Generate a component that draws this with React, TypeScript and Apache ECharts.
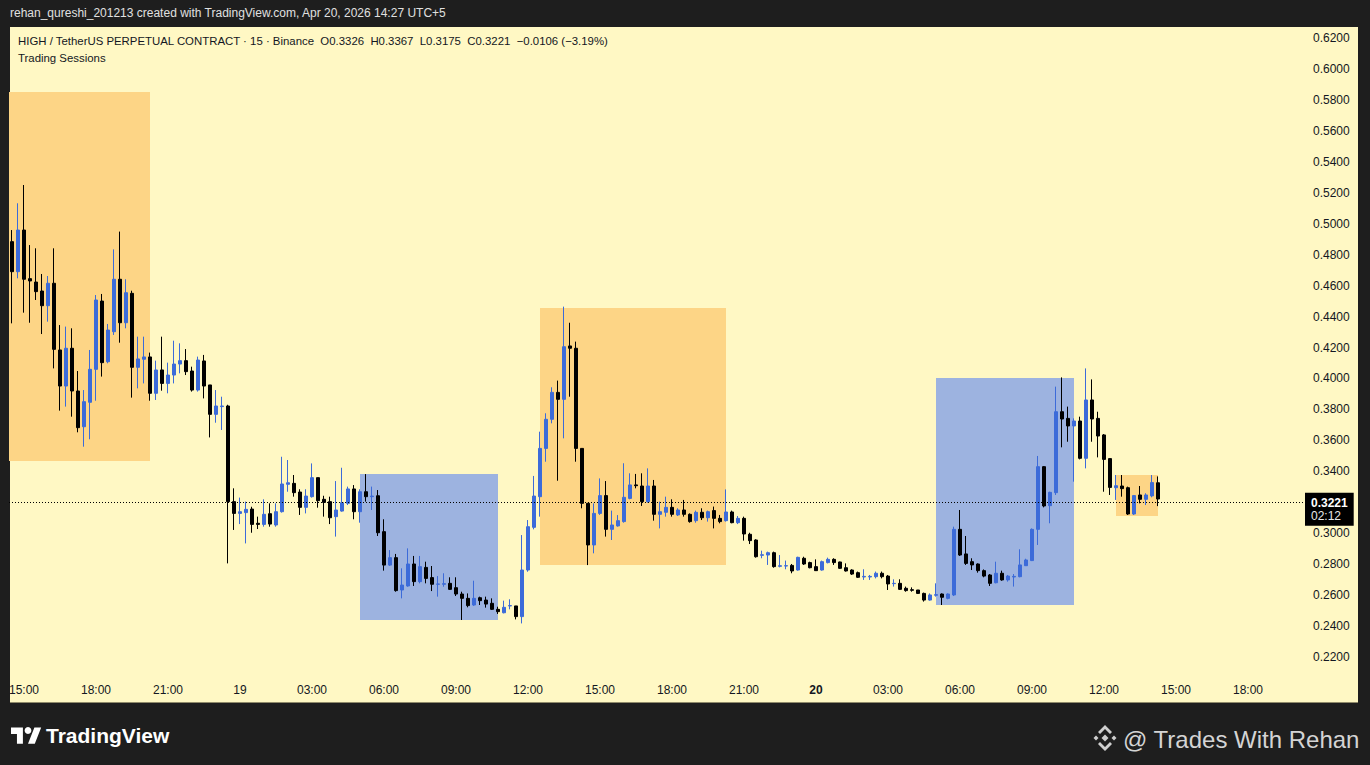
import React, { useEffect, useRef } from "react";
import * as echarts from "echarts";

// ---- OHLC data, one 15-minute candle each, first candle = Apr 18 14:30 ----
const opens = [
  0.4884, 0.4690, 0.4959, 0.4645, 0.4623, 0.4565, 0.4470, 0.4615, 0.4184, 0.3951,
  0.4195, 0.3919, 0.3688, 0.3846, 0.4059, 0.4500, 0.4108, 0.4302, 0.4641, 0.4360,
  0.4550, 0.4072, 0.4124, 0.4139, 0.3904, 0.4055, 0.3968, 0.4022, 0.4093, 0.4115,
  0.4048, 0.3925, 0.4113, 0.3958, 0.3768, 0.3818, 0.3822, 0.3204, 0.3128, 0.3133,
  0.3156, 0.3064, 0.3057, 0.3126, 0.3053, 0.3139, 0.3316, 0.3322, 0.3266, 0.3167,
  0.3236, 0.3359, 0.3219, 0.3204, 0.3107, 0.3143, 0.3193, 0.3286, 0.3139, 0.3268,
  0.3236, 0.3242, 0.3010, 0.2794, 0.2842, 0.2633, 0.2659, 0.2801, 0.2687, 0.2779,
  0.2713, 0.2670, 0.2670, 0.2676, 0.2648, 0.2607, 0.2579, 0.2536, 0.2583, 0.2568,
  0.2547, 0.2508, 0.2486, 0.2530, 0.2530, 0.2461, 0.2762, 0.3038, 0.3236, 0.3548,
  0.3736, 0.3910, 0.3865, 0.4210, 0.4195, 0.3548, 0.3193, 0.2924, 0.3128, 0.3243,
  0.3025, 0.3047, 0.3075, 0.3225, 0.3312, 0.3305, 0.3204, 0.3305, 0.3122, 0.3135,
  0.3167, 0.3118, 0.3150, 0.3122, 0.3081, 0.3135, 0.3100, 0.3146, 0.3096, 0.3081,
  0.3137, 0.3068, 0.3096, 0.2993, 0.2956, 0.2857, 0.2859, 0.2874, 0.2786, 0.2788,
  0.2792, 0.2762, 0.2838, 0.2810, 0.2784, 0.2762, 0.2810, 0.2831, 0.2814, 0.2777,
  0.2762, 0.2745, 0.2717, 0.2717, 0.2719, 0.2741, 0.2723, 0.2674, 0.2676, 0.2644,
  0.2635, 0.2633, 0.2611, 0.2568, 0.2599, 0.2607, 0.2579, 0.2601, 0.3025, 0.2866,
  0.2816, 0.2801, 0.2758, 0.2730, 0.2680, 0.2741, 0.2698, 0.2717, 0.2719, 0.2790,
  0.2823, 0.3025, 0.3430, 0.3178, 0.3262, 0.3785, 0.3742, 0.3693, 0.3725, 0.3484,
  0.3861, 0.3742, 0.3635, 0.3482, 0.3294, 0.3305, 0.3294, 0.3124, 0.3247, 0.3219,
  0.3241, 0.3326,
];
const closes = [
  0.4690, 0.4959, 0.4641, 0.4630, 0.4561, 0.4470, 0.4615, 0.4188, 0.3951, 0.4195,
  0.3919, 0.3682, 0.3850, 0.4059, 0.4507, 0.4102, 0.4313, 0.4641, 0.4360, 0.4554,
  0.4072, 0.4126, 0.4139, 0.3904, 0.4055, 0.3968, 0.4022, 0.4093, 0.4115, 0.4044,
  0.3925, 0.4119, 0.3951, 0.3768, 0.3822, 0.3822, 0.3204, 0.3128, 0.3139, 0.3154,
  0.3057, 0.3057, 0.3122, 0.3059, 0.3139, 0.3318, 0.3326, 0.3262, 0.3167, 0.3240,
  0.3359, 0.3210, 0.3199, 0.3100, 0.3150, 0.3197, 0.3286, 0.3139, 0.3268, 0.3236,
  0.3240, 0.3003, 0.2794, 0.2842, 0.2629, 0.2665, 0.2801, 0.2687, 0.2784, 0.2708,
  0.2670, 0.2672, 0.2674, 0.2637, 0.2607, 0.2579, 0.2532, 0.2579, 0.2564, 0.2542,
  0.2508, 0.2493, 0.2521, 0.2532, 0.2461, 0.2762, 0.3042, 0.3240, 0.3548, 0.3736,
  0.3910, 0.3865, 0.4205, 0.4195, 0.3548, 0.3193, 0.2924, 0.3128, 0.3243, 0.3025,
  0.3053, 0.3081, 0.3232, 0.3312, 0.3307, 0.3204, 0.3305, 0.3122, 0.3139, 0.3167,
  0.3122, 0.3150, 0.3122, 0.3075, 0.3135, 0.3100, 0.3139, 0.3096, 0.3075, 0.3137,
  0.3068, 0.3096, 0.2995, 0.2952, 0.2848, 0.2861, 0.2874, 0.2784, 0.2790, 0.2790,
  0.2756, 0.2844, 0.2801, 0.2777, 0.2758, 0.2816, 0.2831, 0.2810, 0.2773, 0.2756,
  0.2736, 0.2715, 0.2721, 0.2721, 0.2741, 0.2719, 0.2672, 0.2676, 0.2637, 0.2629,
  0.2631, 0.2611, 0.2568, 0.2601, 0.2603, 0.2586, 0.2607, 0.3025, 0.2859, 0.2805,
  0.2795, 0.2758, 0.2723, 0.2676, 0.2741, 0.2698, 0.2723, 0.2721, 0.2795, 0.2827,
  0.3025, 0.3430, 0.3176, 0.3264, 0.3785, 0.3738, 0.3693, 0.3725, 0.3484, 0.3861,
  0.3738, 0.3628, 0.3477, 0.3296, 0.3307, 0.3288, 0.3124, 0.3243, 0.3219, 0.3247,
  0.3327, 0.3221,
];
const lows = [
  0.4356, 0.4647, 0.4425, 0.4360, 0.4507, 0.4287, 0.4367, 0.4065, 0.3792, 0.3818,
  0.3753, 0.3652, 0.3559, 0.3607, 0.3856, 0.4012, 0.4098, 0.4281, 0.4231, 0.4324,
  0.3876, 0.3936, 0.3968, 0.3856, 0.3861, 0.3921, 0.3904, 0.3968, 0.4033, 0.4022,
  0.3915, 0.3915, 0.3871, 0.3619, 0.3714, 0.3667, 0.2805, 0.3021, 0.3059, 0.2934,
  0.3003, 0.3027, 0.3042, 0.3042, 0.3042, 0.3133, 0.3268, 0.3236, 0.3118, 0.3128,
  0.3230, 0.3165, 0.3107, 0.3059, 0.2978, 0.3139, 0.3182, 0.3090, 0.3068, 0.3204,
  0.3150, 0.2982, 0.2758, 0.2788, 0.2622, 0.2579, 0.2654, 0.2659, 0.2676, 0.2676,
  0.2626, 0.2590, 0.2654, 0.2633, 0.2594, 0.2439, 0.2521, 0.2530, 0.2536, 0.2519,
  0.2504, 0.2478, 0.2482, 0.2508, 0.2443, 0.2417, 0.2751, 0.3025, 0.3107, 0.3462,
  0.3710, 0.3339, 0.3613, 0.3882, 0.3462, 0.3161, 0.2794, 0.2870, 0.3118, 0.2978,
  0.2956, 0.3042, 0.3068, 0.3219, 0.3290, 0.3176, 0.3197, 0.3081, 0.3031, 0.3107,
  0.3107, 0.3111, 0.3107, 0.3068, 0.3068, 0.3085, 0.3075, 0.3031, 0.3064, 0.3075,
  0.3064, 0.3059, 0.2952, 0.2930, 0.2842, 0.2838, 0.2795, 0.2777, 0.2779, 0.2767,
  0.2741, 0.2758, 0.2795, 0.2773, 0.2756, 0.2758, 0.2805, 0.2795, 0.2769, 0.2752,
  0.2730, 0.2711, 0.2698, 0.2698, 0.2708, 0.2708, 0.2633, 0.2655, 0.2633, 0.2622,
  0.2622, 0.2607, 0.2558, 0.2564, 0.2590, 0.2536, 0.2573, 0.2594, 0.2853, 0.2795,
  0.2762, 0.2745, 0.2715, 0.2659, 0.2676, 0.2693, 0.2687, 0.2655, 0.2715, 0.2788,
  0.2820, 0.2924, 0.3167, 0.3064, 0.3247, 0.3555, 0.3591, 0.3333, 0.3477, 0.3419,
  0.3591, 0.3490, 0.3268, 0.3247, 0.3215, 0.3236, 0.3118, 0.3118, 0.3193, 0.3182,
  0.3232, 0.3175,
];
const highs = [
  0.4959, 0.5132, 0.5250, 0.4862, 0.4841, 0.4675, 0.4662, 0.4841, 0.4345, 0.4335,
  0.4324, 0.4048, 0.3925, 0.4184, 0.4539, 0.4546, 0.4352, 0.4834, 0.4949, 0.4641,
  0.4567, 0.4270, 0.4270, 0.4167, 0.4115, 0.4270, 0.4102, 0.4244, 0.4227, 0.4190,
  0.4076, 0.4141, 0.4152, 0.3958, 0.3925, 0.3882, 0.3830, 0.3290, 0.3230, 0.3204,
  0.3171, 0.3107, 0.3219, 0.3193, 0.3193, 0.3494, 0.3473, 0.3376, 0.3284, 0.3284,
  0.3451, 0.3359, 0.3242, 0.3236, 0.3337, 0.3423, 0.3301, 0.3311, 0.3284, 0.3382,
  0.3301, 0.3279, 0.3090, 0.2891, 0.2866, 0.2773, 0.2902, 0.2853, 0.2853, 0.2816,
  0.2788, 0.2723, 0.2741, 0.2715, 0.2715, 0.2622, 0.2611, 0.2693, 0.2590, 0.2590,
  0.2579, 0.2525, 0.2564, 0.2573, 0.2530, 0.2988, 0.3085, 0.3370, 0.3656, 0.3775,
  0.3943, 0.3986, 0.4464, 0.4360, 0.4238, 0.3548, 0.3193, 0.3193, 0.3354, 0.3337,
  0.3146, 0.3117, 0.3452, 0.3387, 0.3383, 0.3387, 0.3419, 0.3344, 0.3204, 0.3236,
  0.3219, 0.3161, 0.3215, 0.3128, 0.3146, 0.3161, 0.3146, 0.3172, 0.3118, 0.3283,
  0.3146, 0.3111, 0.3107, 0.3003, 0.2961, 0.2887, 0.2881, 0.2881, 0.2859, 0.2823,
  0.2801, 0.2848, 0.2848, 0.2816, 0.2831, 0.2823, 0.2842, 0.2838, 0.2816, 0.2805,
  0.2767, 0.2752, 0.2767, 0.2730, 0.2752, 0.2752, 0.2730, 0.2702, 0.2702, 0.2655,
  0.2650, 0.2633, 0.2616, 0.2611, 0.2676, 0.2611, 0.2611, 0.3042, 0.3150, 0.2982,
  0.2838, 0.2805, 0.2766, 0.2736, 0.2816, 0.2758, 0.2730, 0.2736, 0.2896, 0.2835,
  0.3031, 0.3499, 0.3434, 0.3268, 0.3947, 0.4007, 0.3818, 0.3742, 0.3753, 0.4065,
  0.3994, 0.3785, 0.3641, 0.3484, 0.3376, 0.3376, 0.3301, 0.3247, 0.3305, 0.3258,
  0.3376, 0.3367,
];

// ---- time axis: 15-minute slots, starting Apr 18 14:30 (UTC+5) ----
const firstDay = 18;
const firstMinute = 14 * 60 + 30;
const slotMinutes = 15;
const slotCount = 216;
const currentDay = 20;
const pad = (n: number) => String(n).padStart(2, "0");
const categories: string[] = [];
for (let i = 0; i < slotCount; i++) {
  const total = firstMinute + i * slotMinutes;
  const day = firstDay + Math.floor(total / 1440);
  const m = total % 1440;
  categories.push(`04-${pad(day)} ${pad(Math.floor(m / 60))}:${pad(m % 60)}`);
}

// ---- trading sessions (kind 0 = orange, 1 = blue) ----
const sessionStart = ["04-18 14:30", "04-19 05:00", "04-19 12:30", "04-20 05:00", "04-20 12:30"];
const sessionEnd = ["04-18 20:15", "04-19 10:45", "04-19 20:15", "04-20 10:45", "04-20 14:15"];
const sessionHigh = [0.5851, 0.3382, 0.4455, 0.4003, 0.3376];
const sessionLow = [0.3467, 0.2439, 0.2795, 0.2536, 0.3111];
const sessionKind = [0, 1, 0, 1, 0];
const sessionOpenBefore = [1, 0, 0, 0, 0];

// ---- y ticks ----
const yMin = 0.22;
const yMax = 0.62;
const yStep = 0.02;

const headerText = "rehan_qureshi_201213 created with TradingView.com, Apr 20, 2026 14:27 UTC+5";
const legendText =
  "HIGH / TetherUS PERPETUAL CONTRACT · 15 · Binance  O0.3326  H0.3367  L0.3175  C0.3221  \u22120.0106 (\u22123.19%)";
const indicatorText = "Trading Sessions";
const countdown = "02:12";

const FONT = "'Liberation Sans', Arial, sans-serif";
const BG_DARK = "#1e1e1e";
const PANEL = "#fff8c4";
const ORANGE = "#fdd586";
const BLUE_BOX = "#9db3e0";
const UP = "#3c6bd9";
const DOWN = "#000000";

export default function App() {
  const ref = useRef<HTMLDivElement>(null);

  useEffect(() => {
    if (!ref.current) return;
    echarts.graphic.registerShape(
      "tvlogo",
      echarts.graphic.extendPath("M14 22H7V11H0V4h14v18zM28 22h-8l7.5-18h8L28 22z", {}) as any
    );
    const chart = echarts.init(ref.current, undefined, { renderer: "svg" });

    const candles = opens.map((o, i) => [o, closes[i], lows[i], highs[i]]);
    const lastClose = closes[closes.length - 1];
    const sessionData = sessionStart.map((s, i) => [
      categories.indexOf(s),
      categories.indexOf(sessionEnd[i]),
      sessionHigh[i],
      sessionLow[i],
      sessionKind[i],
      sessionOpenBefore[i],
    ]);

    const option: any = {
      animation: false,
      backgroundColor: BG_DARK,
      textStyle: { fontFamily: FONT },
      grid: { left: 9, top: 38, width: 1296, height: 619, containLabel: false },
      xAxis: {
        type: "category",
        data: categories,
        boundaryGap: true,
        axisLine: { show: false },
        axisTick: { show: false },
        splitLine: { show: false },
        axisLabel: {
          interval: (index: number) => (index - 2) % 12 === 0,
          margin: 27,
          color: "#131722",
          fontSize: 12,
          fontFamily: FONT,
          formatter: (v: string) => {
            const t = v.slice(6);
            if (t === "00:00") {
              const d = parseInt(v.slice(3, 5), 10);
              return d === currentDay ? `{cur|${d}}` : `${d}`;
            }
            return t;
          },
          rich: { cur: { fontWeight: "bold", fontSize: 12, color: "#131722", fontFamily: FONT } },
        },
      },
      yAxis: {
        type: "value",
        position: "right",
        min: yMin,
        max: yMax,
        interval: yStep,
        scale: true,
        axisLine: { show: false },
        axisTick: { show: false },
        splitLine: { show: false },
        axisLabel: {
          margin: 8,
          color: "#131722",
          fontSize: 12,
          fontFamily: FONT,
          formatter: (v: number) => (Math.abs(v - 0.32) < 1e-6 ? "" : v.toFixed(4)),
        },
      },
      graphic: [
        { type: "rect", z: -10, shape: { x: 10, y: 27, width: 1348, height: 676 }, style: { fill: PANEL } },
        { type: "rect", z: -9, shape: { x: 10, y: 702, width: 1348, height: 1 }, style: { fill: "#8f8a6a" } },
        {
          type: "text", x: 10, y: 13,
          style: { text: headerText, fill: "#e0e0e0", font: `12px ${FONT}`, verticalAlign: "middle" },
        },
        {
          type: "text", x: 18, y: 41,
          style: { text: legendText, fill: "#131722", font: `11.4px ${FONT}`, verticalAlign: "middle" },
        },
        {
          type: "text", x: 18, y: 58,
          style: { text: indicatorText, fill: "#131722", font: `11.4px ${FONT}`, verticalAlign: "middle" },
        },
        { type: "tvlogo", x: 11, y: 724, scaleX: 0.85, scaleY: 0.9, style: { fill: "#ffffff" } },
        { type: "circle", shape: { cx: 28, cy: 730.5, r: 3.4 }, style: { fill: "#ffffff" } },
        {
          type: "text", x: 46, y: 735,
          style: { text: "TradingView", fill: "#ffffff", font: `bold 21px ${FONT}`, verticalAlign: "middle" },
        },
        { type: "polygon", shape: { points: [[1105, 725], [1112, 732], [1110, 734], [1105, 729], [1100, 734], [1098, 732]] }, style: { fill: "#cfcfcf" } },
        { type: "polygon", shape: { points: [[1105, 751], [1112, 744], [1110, 742], [1105, 747], [1100, 742], [1098, 744]] }, style: { fill: "#cfcfcf" } },
        { type: "polygon", shape: { points: [[1105, 734.5], [1108.5, 738], [1105, 741.5], [1101.5, 738]] }, style: { fill: "#cfcfcf" } },
        { type: "polygon", shape: { points: [[1096, 735.5], [1098.5, 738], [1096, 740.5], [1093.5, 738]] }, style: { fill: "#cfcfcf" } },
        { type: "polygon", shape: { points: [[1114, 735.5], [1116.5, 738], [1114, 740.5], [1111.5, 738]] }, style: { fill: "#cfcfcf" } },
        {
          type: "text", x: 1123, y: 739,
          style: { text: "@ Trades With Rehan", fill: "#d4d4d4", font: `24px ${FONT}`, verticalAlign: "middle" },
        },
      ],
      series: [
        {
          type: "custom",
          z: 1,
          silent: true,
          clip: true,
          encode: { x: [0, 1], y: [2, 3] },
          data: sessionData,
          renderItem: (params: any, api: any) => {
            const p1 = api.coord([api.value(0), api.value(2)]);
            const p2 = api.coord([api.value(1), api.value(3)]);
            const x1 = api.value(5) ? params.coordSys.x : p1[0];
            return {
              type: "rect",
              shape: { x: x1, y: p1[1], width: p2[0] - x1, height: p2[1] - p1[1] },
              style: { fill: api.value(4) === 0 ? ORANGE : BLUE_BOX },
            };
          },
        },
        {
          type: "candlestick",
          z: 3,
          barWidth: 4,
          data: candles,
          itemStyle: {
            color: UP,
            color0: DOWN,
            borderColor: UP,
            borderColor0: DOWN,
            borderWidth: 1,
          },
          markLine: {
            silent: true,
            symbol: ["none", "none"],
            animation: false,
            lineStyle: { color: "#000000", type: [1, 2], width: 1 },
            label: {
              show: true,
              position: "end",
              distance: 0,
              offset: [0, 7],
              backgroundColor: "#000000",
              padding: [4, 6, 3, 6],
              formatter: () => `{p|${lastClose.toFixed(4)}}\n{t|${countdown}}`,
              rich: {
                p: { color: "#ffffff", fontWeight: "bold", fontSize: 12, lineHeight: 13, fontFamily: FONT },
                t: { color: "#e8e8e8", fontSize: 12, lineHeight: 13, fontFamily: FONT },
              },
            },
            data: [{ yAxis: lastClose }],
          },
        },
      ],
    };

    chart.setOption(option);
    return () => chart.dispose();
  }, []);

  return (
    <div
      ref={ref}
      style={{ position: "fixed", left: 0, top: 0, width: 1370, height: 765 }}
    />
  );
}
